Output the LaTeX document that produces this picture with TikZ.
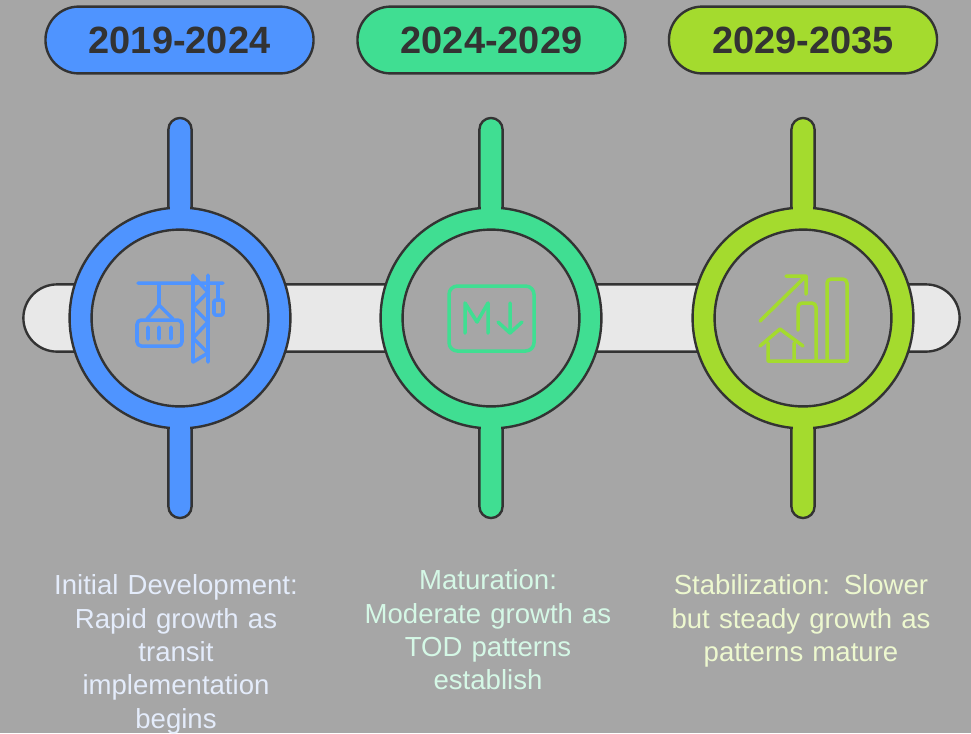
\documentclass[tikz,border=0pt]{standalone}
\usepackage{fontspec}
\setmainfont[WordSpace=0.8]{Liberation Sans}
\definecolor{bggray}{HTML}{A6A6A6}
\definecolor{baroff}{HTML}{E8E8E8}
\definecolor{inkdark}{HTML}{333333}
\definecolor{stageblue}{HTML}{4F94FF}
\definecolor{stagegreen}{HTML}{40DE92}
\definecolor{stagelime}{HTML}{A4DB2E}
\definecolor{noteblue}{HTML}{E4ECFB}
\definecolor{notegreen}{HTML}{D5F8E6}
\definecolor{notelime}{HTML}{EDF8CF}
\tikzset{
  period/.style={rectangle, rounded corners=0.83cm, draw=inkdark, line width=1.7pt, minimum width=6.7cm, minimum height=1.67cm, inner sep=0pt, font=\bfseries\fontsize{27}{27}\selectfont, text=inkdark},
  note/.style={align=center, text width=6.6cm, inner sep=0pt, font=\fontsize{19.6}{23.7}\selectfont, anchor=north},
  stem/.style={rectangle, rounded corners=0.29cm, draw=inkdark, line width=1.7pt, minimum width=0.58cm, minimum height=10cm, inner sep=0pt},
  ring/.style={circle, draw=inkdark, line width=1.7pt, minimum size=5.52cm, inner sep=0pt},
  hole/.style={circle, draw=inkdark, line width=1.7pt, fill=bggray, minimum size=4.42cm, inner sep=0pt},
  patch/.style={rectangle, minimum width=0.49cm, minimum height=0.5cm, inner sep=0pt},
  glyph/.style={line width=2.5pt, line cap=round, line join=round}
}
\begin{document}
\begin{tikzpicture}[x=0.025cm,y=-0.025cm]
      \useasboundingbox[fill=bggray] (0,0) rectangle (971,733);

      \node at (491.5,318) [rectangle, rounded corners=0.84cm, draw=inkdark, line width=1.7pt, fill=baroff, minimum width=23.4cm, minimum height=1.68cm] (track) {};

      \node at (180,318) [stem, fill=stageblue] (stem-a) {};
      \node at (491,318) [stem, fill=stagegreen] (stem-b) {};
      \node at (803,318) [stem, fill=stagelime] (stem-c) {};

      \node at (180,318) [ring, fill=stageblue] (ring-a) {};
      \node at (491,318) [ring, fill=stagegreen] (ring-b) {};
      \node at (803,318) [ring, fill=stagelime] (ring-c) {};

      % joins between stem and ring
      \node at (180,212) [patch, fill=stageblue] (join-a1) {};
      \node at (180,424) [patch, fill=stageblue] (join-a2) {};
      \node at (491,212) [patch, fill=stagegreen] (join-b1) {};
      \node at (491,424) [patch, fill=stagegreen] (join-b2) {};
      \node at (803,212) [patch, fill=stagelime] (join-c1) {};
      \node at (803,424) [patch, fill=stagelime] (join-c2) {};

      \node at (180,318) [hole] (hole-a) {};
      \node at (491,318) [hole] (hole-b) {};
      \node at (803,318) [hole] (hole-c) {};

      \node at (179.5,40) [period, fill=stageblue] (period-a) {2019-2024};
      \node at (491.5,40) [period, fill=stagegreen] (period-b) {2024-2029};
      \node at (803,40) [period, fill=stagelime] (period-c) {2029-2035};

      % crane
      \draw[glyph, stageblue]
      (138,283)--(223,283) (159,283)--(159,305)
      (147,319)--(159,305)--(173,319)
      (193,275)--(193,362) (208,275)--(208,362)
      (193,276)--(208,292)--(193,307)--(208,322)--(193,338)--(208,353)--(193,362)
      (218,283)--(218,300)
      (148,327)--(148,339) (159,327)--(159,339) (171,327)--(171,339);
      \draw[glyph, stageblue, rounded corners=3] (137,320) rectangle (182,346);
      \draw[glyph, stageblue, rounded corners=1] (214,300) rectangle (223,315);

      % markdown box
      \draw[glyph, stagegreen, rounded corners=6] (449,286) rectangle (534,351);
      \draw[glyph, stagegreen]
      (465,333)--(465,303)--(477,322)--(488,303)--(488,333)
      (510,303)--(510,333) (498,322)--(510,333)--(522,322);

      % growth chart
      \draw[glyph, stagelime]
      (760,321)--(806,276) (786,276)--(806,276)--(806,294)
      (768,343)--(768,361)--(847,361)
      (794,343)--(794,361)
      (760,346)--(780,329)--(803,346);
      \draw[glyph, stagelime, rounded corners=3]
      (798,330)--(798,303)--(816,303)--(816,361)
      (827,361)--(827,279)--(847,279)--(847,361);

      \node at (176,574.5) [note, text=noteblue] (note-a) {Initial Development:\\Rapid growth as\\transit\\implementation\\begins};
      \node at (488,569.5) [note, text=notegreen] (note-b) {Maturation:\\Moderate growth as\\TOD patterns\\establish};
      \node at (801,574.5) [note, text=notelime] (note-c) {Stabilization: Slower\\but steady growth as\\patterns mature};
\end{tikzpicture}
\end{document}
